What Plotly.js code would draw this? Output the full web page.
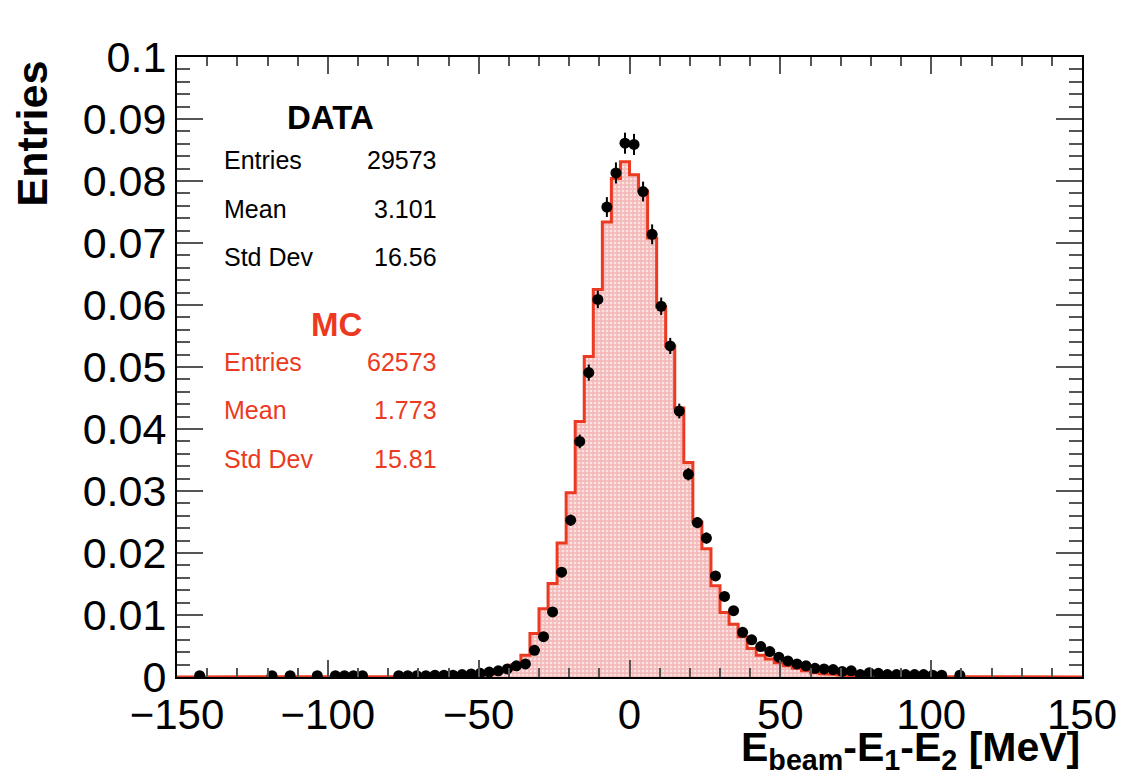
<!DOCTYPE html>
<html>
<head>
<meta charset="utf-8">
<script src="https://cdn.plot.ly/plotly-3.0.1.min.js"></script>
<style>
  html, body { margin: 0; padding: 0; background: #ffffff; }
  #chart { width: 1125px; height: 777px; }
</style>
</head>
<body>
<div id="chart"></div>
<script>
// ---- Histogram binning: 100 bins of 3 MeV from -150 to 150 ----
const binStart = -150;
const binWidth = 3;
const nBins = 100;

// ---- DATA (normalised entries per bin; null = empty bin) ----
const dataValues = [
  null, null, 0.0002, null, null, null, null, null, null, null,        // -148.5 .. -121.5
  0.0002, null, 0.0002, null, null, 0.0002, null, 0.0002, 0.0002, 0.0002, // -118.5 .. -91.5
  0.0002, null, null, null, 0.0002, 0.0002, 0.0002, 0.0002, 0.0003, 0.0003, // -88.5 .. -61.5
  0.0003, 0.0004, 0.0005, 0.0006, 0.0008, 0.0010, 0.0013, 0.0018, 0.0021, 0.0043, // -58.5 .. -31.5
  0.0065, 0.0105, 0.0169, 0.0253, 0.0380, 0.0491, 0.0609, 0.0758, 0.0813, 0.0861, // -28.5 .. -1.5
  0.0859, 0.0783, 0.0714, 0.0598, 0.0534, 0.0429, 0.0327, 0.0249, 0.0224, 0.0163, // 1.5 .. 28.5
  0.0130, 0.0107, 0.0072, 0.0060, 0.0049, 0.0041, 0.0032, 0.0026, 0.0021, 0.0018, // 31.5 .. 58.5
  0.0014, 0.0013, 0.0012, 0.0009, 0.0010, 0.0004, 0.0007, 0.0006, 0.0004, 0.0004, // 61.5 .. 88.5
  0.0004, 0.0004, 0.0004, 0.0003, 0.0003, null, 0.0003, null, null, null,       // 91.5 .. 118.5
  null, null, null, null, null, null, null, null, null, null             // 121.5 .. 148.5
];
const dataErrors = [
  0, 0, 0.0001, 0, 0, 0, 0, 0, 0, 0,
  0.0001, 0, 0.0001, 0, 0, 0.0001, 0, 0.0001, 0.0001, 0.0001,
  0.0001, 0, 0, 0, 0.0001, 0.0001, 0.0001, 0.0001, 0.0001, 0.0001,
  0.0001, 0.0001, 0.0001, 0.0001, 0.0002, 0.0002, 0.0002, 0.0002, 0.0003, 0.0004,
  0.0005, 0.0006, 0.0008, 0.0009, 0.0011, 0.0013, 0.0014, 0.0016, 0.0017, 0.0017,
  0.0017, 0.0016, 0.0016, 0.0014, 0.0013, 0.0012, 0.0010, 0.0009, 0.0009, 0.0007,
  0.0007, 0.0006, 0.0005, 0.0005, 0.0004, 0.0004, 0.0003, 0.0003, 0.0003, 0.0002,
  0.0002, 0.0002, 0.0002, 0.0002, 0.0002, 0.0001, 0.0002, 0.0001, 0.0001, 0.0001,
  0.0001, 0.0001, 0.0001, 0.0001, 0.0001, 0, 0.0001, 0, 0, 0,
  0, 0, 0, 0, 0, 0, 0, 0, 0, 0
];

// ---- MC (normalised entries per bin) ----
const mcValues = [
  0, 0, 0, 0, 0, 0, 0, 0, 0, 0,
  0, 0, 0, 0, 0, 0, 0, 0, 0, 0,
  0, 0, 0, 0, 0, 0, 0, 0, 0, 0,
  0.0001, 0.0001, 0.0002, 0.0003, 0.0005, 0.0008, 0.0012, 0.0020, 0.0035, 0.0070,
  0.0110, 0.0151, 0.0216, 0.0297, 0.0412, 0.0517, 0.0625, 0.0734, 0.0804, 0.0831,
  0.0810, 0.0784, 0.0708, 0.0597, 0.0534, 0.0434, 0.0346, 0.0250, 0.0207, 0.0147,
  0.0104, 0.0085, 0.0065, 0.0046, 0.0035, 0.0029, 0.0023, 0.0018, 0.0014, 0.0010,
  0.0007, 0.0005, 0.0004, 0.0003, 0.0002, 0.0001, 0, 0, 0, 0,
  0, 0, 0, 0, 0, 0, 0, 0, 0, 0,
  0, 0, 0, 0, 0, 0, 0, 0, 0, 0
];

// ---- Stats box texts ----
const dataStatsLabels = ["Entries", "Mean", "Std Dev"];
const dataStatsValues = ["29573", "3.101", "16.56"];
const mcStatsLabels = ["Entries", "Mean", "Std Dev"];
const mcStatsValues = ["62573", "1.773", "15.81"];

// ---- Axis ticks ----
const xTickVals = [-150, -100, -50, 0, 50, 100, 150];
const yTickVals = [0, 0.01, 0.02, 0.03, 0.04, 0.05, 0.06, 0.07, 0.08, 0.09, 0.1];

// bin centres
const centers = [];
for (let i = 0; i < nBins; i++) centers.push(binStart + binWidth * (i + 0.5));
// edges for step outline
const edgesX = [];
const edgesY = [];
for (let i = 0; i < nBins; i++) {
  edgesX.push(binStart + binWidth * i, binStart + binWidth * (i + 1));
  edgesY.push(mcValues[i], mcValues[i]);
}

const RED = '#ec3a22';
const FONT = 'Liberation Sans, Arial, Helvetica, sans-serif';

const mcTrace = {
  type: 'scatter', mode: 'lines', x: edgesX, y: edgesY,
  line: { color: RED, width: 3, shape: 'linear' },
  fill: 'tozeroy', fillcolor: 'rgb(245,192,192)',
  fillpattern: { shape: '.', fgcolor: 'rgba(255,255,255,0.6)', bgcolor: 'rgb(244,186,186)', size: 4, solidity: 0.35 },
  hoverinfo: 'skip', showlegend: false, name: 'MC'
};

const dataTrace = {
  type: 'scatter', mode: 'markers', x: centers, y: dataValues,
  marker: { color: '#000000', size: 11, symbol: 'circle' },
  error_y: { type: 'data', array: dataErrors, visible: true, color: '#000000', thickness: 2, width: 0 },
  showlegend: false, name: 'DATA'
};

const annotations = [];
function txt(x, y, text, opts) {
  annotations.push(Object.assign({
    x: x, y: y, xref: 'x', yref: 'y', text: text, showarrow: false,
    font: { family: FONT, size: 25, color: '#000' }
  }, opts));
}
// DATA box
txt(-99, 0.0902, '<b>DATA</b>', { font: { family: FONT, size: 33, color: '#000' } });
const dataRowsY = [0.0834, 0.0755, 0.0677];
dataStatsLabels.forEach((l, i) => {
  txt(-135, dataRowsY[i], l, { xanchor: 'left' });
  txt(-63, dataRowsY[i], dataStatsValues[i], { xanchor: 'right' });
});
// MC box
txt(-97, 0.0568, '<b>MC</b>', { font: { family: FONT, size: 33, color: RED } });
const mcRowsY = [0.0508, 0.0431, 0.0352];
mcStatsLabels.forEach((l, i) => {
  txt(-135, mcRowsY[i], l, { xanchor: 'left', font: { family: FONT, size: 25, color: RED } });
  txt(-63, mcRowsY[i], mcStatsValues[i], { xanchor: 'right', font: { family: FONT, size: 25, color: RED } });
});
// axis titles (ROOT style, aligned to axis ends)
annotations.push({
  xref: 'paper', yref: 'paper', x: 1, y: -0.073, xanchor: 'right', yanchor: 'top',
  text: '<b>E<sub>beam</sub>-E<sub>1</sub>-E<sub>2</sub> [MeV]</b>', showarrow: false,
  font: { family: FONT, size: 41, color: '#000' }
});
annotations.push({
  xref: 'paper', yref: 'paper', x: -0.16, y: 0.998, xanchor: 'center', yanchor: 'top',
  text: '<b>Entries</b>', textangle: -90, showarrow: false,
  font: { family: FONT, size: 43, color: '#000' }
});

const layout = {
  width: 1125, height: 777,
  margin: { l: 177, r: 43, t: 57, b: 100 },
  paper_bgcolor: '#ffffff', plot_bgcolor: '#ffffff',
  showlegend: false,
  font: { family: FONT, color: '#000' },
  xaxis: {
    range: [-150, 150], tickvals: xTickVals, ticks: 'inside', ticklen: 17, tickwidth: 2, tickcolor: '#555',
    minor: { dtick: 10, ticks: 'inside', ticklen: 9, tickwidth: 2, tickcolor: '#555', showgrid: false },
    showline: true, linecolor: '#000', linewidth: 2, mirror: 'allticks',
    showgrid: false, zeroline: false,
    tickfont: { family: FONT, size: 42, color: '#000' }
  },
  yaxis: {
    range: [0, 0.1], tickvals: yTickVals, ticks: 'inside', ticklen: 26, tickwidth: 2, tickcolor: '#555',
    minor: { dtick: 0.002, ticks: 'inside', ticklen: 13, tickwidth: 2, tickcolor: '#555', showgrid: false },
    showline: true, linecolor: '#000', linewidth: 2, mirror: 'allticks',
    showgrid: false, zeroline: false,
    tickfont: { family: FONT, size: 43, color: '#000' }
  },
  annotations: annotations
};

Plotly.newPlot('chart', [mcTrace, dataTrace], layout, { staticPlot: true, displayModeBar: false });
</script>
</body>
</html>
